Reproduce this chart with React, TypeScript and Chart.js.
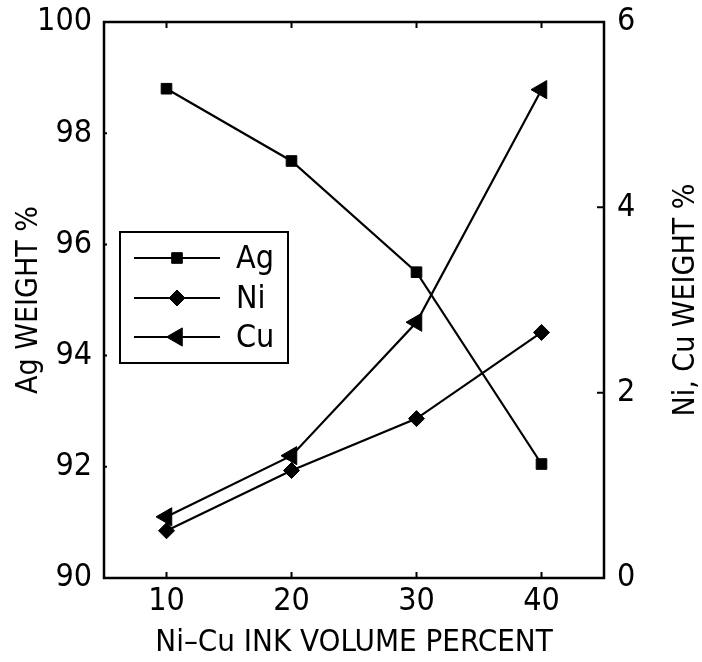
import React, { useEffect, useRef } from 'react';
import { Chart, registerables } from 'chart.js';

Chart.register(...registerables);

// ---- data ----
const volumePercent = [10, 20, 30, 40];
const agWeight = [98.8, 97.5, 95.5, 92.05];
const niWeight = [0.51, 1.16, 1.72, 2.65];
const cuWeight = [0.66, 1.32, 2.76, 5.27];
const xTickValues = [10, 20, 30, 40];
const seriesNames = ['Ag', 'Ni', 'Cu'];
const xTitle = 'Ni–Cu INK VOLUME PERCENT';
const leftTitle = 'Ag WEIGHT %';
const rightTitle = 'Ni, Cu WEIGHT %';

const FONT = "'Liberation Sans Narrow', 'DejaVu Sans Condensed', 'Roboto Condensed', 'Liberation Sans', sans-serif";
const W = 702;
const H = 662;

type Marker = { style: string; radius: number; rotation: number };
const markers: Marker[] = [
  { style: 'rect', radius: 7.5, rotation: 0 },
  { style: 'rectRot', radius: 8, rotation: 0 },
  { style: 'triangle', radius: 10.5, rotation: 270 },
];

function drawMarker(ctx: CanvasRenderingContext2D, m: Marker, x: number, y: number) {
  ctx.beginPath();
  const r = m.radius;
  if (m.style === 'rect') {
    const s = Math.SQRT1_2 * r;
    ctx.rect(x - s, y - s, 2 * s, 2 * s);
  } else if (m.style === 'rectRot') {
    ctx.moveTo(x, y - r);
    ctx.lineTo(x + r, y);
    ctx.lineTo(x, y + r);
    ctx.lineTo(x - r, y);
    ctx.closePath();
  } else {
    let rad = (m.rotation * Math.PI) / 180;
    ctx.moveTo(x + Math.sin(rad) * r, y - Math.cos(rad) * r);
    rad += (2 * Math.PI) / 3;
    ctx.lineTo(x + Math.sin(rad) * r, y - Math.cos(rad) * r);
    rad += (2 * Math.PI) / 3;
    ctx.lineTo(x + Math.sin(rad) * r, y - Math.cos(rad) * r);
    ctx.closePath();
  }
  ctx.fill();
  ctx.stroke();
}

const framePlugin = {
  id: 'frameAndLegend',
  afterDraw(chart: any) {
    const ctx: CanvasRenderingContext2D = chart.ctx;
    const { left, right, top, bottom } = chart.chartArea;
    const xs = chart.scales.x;
    const yl = chart.scales.y;
    const yr = chart.scales.y1;
    ctx.save();
    ctx.strokeStyle = '#000';
    ctx.fillStyle = '#000';
    ctx.lineWidth = 2.5;
    ctx.strokeRect(left, top, right - left, bottom - top);

    // inward tick marks
    ctx.lineWidth = 2;
    ctx.beginPath();
    xTickValues.forEach((v) => {
      const px = xs.getPixelForValue(v);
      ctx.moveTo(px, top);
      ctx.lineTo(px, top + 6);
      ctx.moveTo(px, bottom);
      ctx.lineTo(px, bottom - 6);
    });
    yr.ticks.forEach((t: any) => {
      if (t.value <= yr.min || t.value >= yr.max) return;
      const py = yr.getPixelForValue(t.value);
      ctx.moveTo(right, py);
      ctx.lineTo(right - 7, py);
    });
    yl.ticks.forEach((t: any) => {
      if (t.value <= yl.min || t.value >= yl.max) return;
      const py = yl.getPixelForValue(t.value);
      ctx.moveTo(left, py);
      ctx.lineTo(left + 3, py);
    });
    ctx.stroke();

    // right axis title (reads bottom to top)
    ctx.save();
    ctx.translate(686, (top + bottom) / 2);
    ctx.rotate(-Math.PI / 2);
    ctx.font = `30px ${FONT}`;
    ctx.textAlign = 'center';
    ctx.textBaseline = 'middle';
    ctx.fillText(rightTitle, 0, 0);
    ctx.restore();

    // legend
    const bx = 120, by = 232, bw = 168, bh = 131;
    ctx.fillStyle = '#fff';
    ctx.fillRect(bx, by, bw, bh);
    ctx.fillStyle = '#000';
    ctx.lineWidth = 2;
    ctx.strokeRect(bx, by, bw, bh);
    const rows = [258, 298, 337];
    seriesNames.forEach((name, i) => {
      const y = rows[i];
      ctx.lineWidth = 2;
      ctx.beginPath();
      ctx.moveTo(134, y);
      ctx.lineTo(220, y);
      ctx.stroke();
      ctx.lineWidth = 1;
      drawMarker(ctx, markers[i], 177, y);
      ctx.font = `32px ${FONT}`;
      ctx.textAlign = 'left';
      ctx.textBaseline = 'middle';
      ctx.fillText(name, 236, y + 2);
    });
    ctx.restore();
  },
};

function makeData(values: number[]) {
  return volumePercent.map((x, i) => ({ x, y: values[i] }));
}

export default function App() {
  const ref = useRef<HTMLCanvasElement | null>(null);
  useEffect(() => {
    if (!ref.current) return;
    Chart.defaults.font.family = FONT;
    Chart.defaults.color = '#000';
    const seriesValues = [agWeight, niWeight, cuWeight];
    const axes = ['y', 'y1', 'y1'];
    const chart = new Chart(ref.current, {
      type: 'line',
      data: {
        datasets: seriesNames.map((name, i) => ({
          label: name,
          data: makeData(seriesValues[i]),
          yAxisID: axes[i],
          borderColor: '#000',
          backgroundColor: '#000',
          borderWidth: 2.2,
          pointStyle: markers[i].style as any,
          pointRadius: markers[i].radius,
          pointRotation: markers[i].rotation,
          pointBorderWidth: 1,
          pointBackgroundColor: '#000',
          pointBorderColor: '#000',
          tension: 0,
          fill: false,
        })),
      },
      options: {
        responsive: false,
        animation: false,
        events: [],
        layout: { padding: { top: 22, left: 0, right: 0, bottom: 0 } },
        plugins: { legend: { display: false }, tooltip: { enabled: false } },
        scales: {
          x: {
            type: 'linear',
            position: 'bottom',
            min: 5,
            max: 45,
            grid: { display: false, drawTicks: false },
            border: { display: false },
            afterBuildTicks: (s: any) => {
              s.ticks = xTickValues.map((v) => ({ value: v }));
            },
            ticks: { font: { size: 32 }, padding: 4, color: '#000', maxRotation: 0 },
            title: {
              display: true,
              text: xTitle,
              font: { size: 31 },
              color: '#000',
              padding: { top: 0, bottom: 0 },
            },
            afterFit: (s: any) => {
              s.height = 84;
              s.paddingLeft = 0;
              s.paddingRight = 0;
            },
          },
          y: {
            type: 'linear',
            position: 'left',
            min: 90,
            max: 100,
            grid: { display: false, drawTicks: false },
            border: { display: false },
            ticks: { stepSize: 2, font: { size: 32 }, padding: 12, color: '#000' },
            title: {
              display: true,
              text: leftTitle,
              font: { size: 30 },
              color: '#000',
              padding: { top: 11, bottom: 0 },
            },
            afterFit: (s: any) => {
              s.width = 104;
              s.paddingTop = 0;
              s.paddingBottom = 0;
            },
          },
          y1: {
            type: 'linear',
            position: 'right',
            min: 0,
            max: 6,
            grid: { display: false, drawTicks: false },
            border: { display: false },
            ticks: { stepSize: 2, font: { size: 32 }, padding: 13, color: '#000' },
            afterFit: (s: any) => {
              s.width = 98;
              s.paddingTop = 0;
              s.paddingBottom = 0;
            },
          },
        },
      },
      plugins: [framePlugin],
    });
    return () => chart.destroy();
  }, []);
  return (
    <div style={{ position: 'absolute', left: 0, top: 0, width: W, height: H, background: '#fff' }}>
      <canvas ref={ref} width={W} height={H} style={{ width: W, height: H }} />
    </div>
  );
}
